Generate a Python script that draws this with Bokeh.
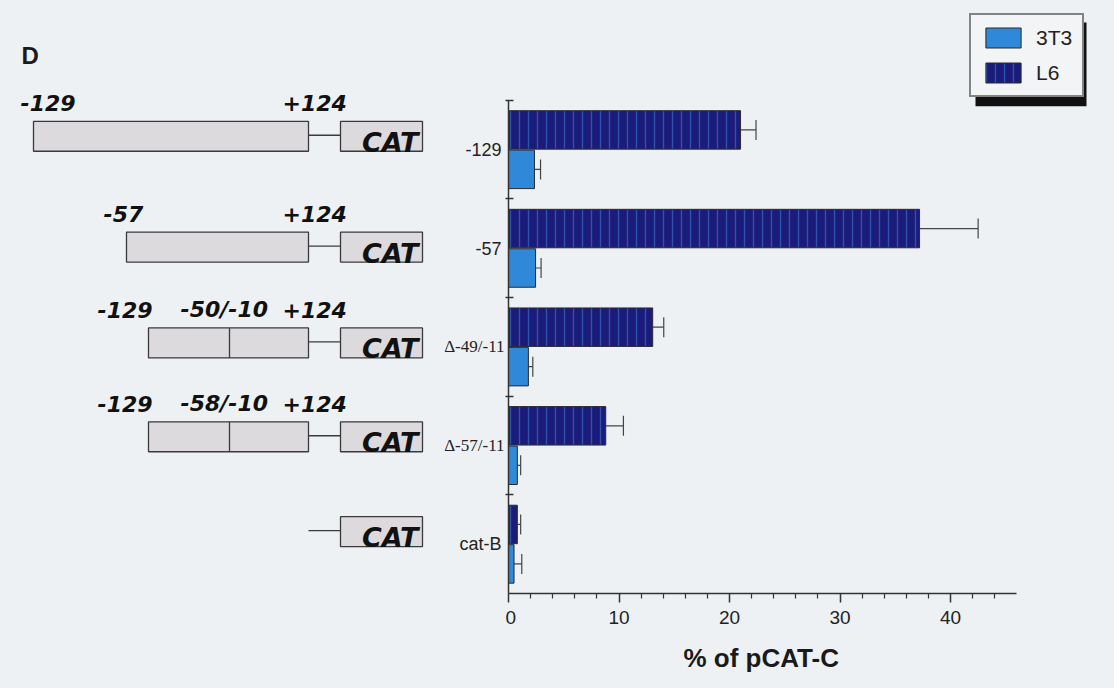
from bokeh.plotting import figure
from bokeh.layouts import row
from bokeh.models import (Range1d, LinearAxis, FixedTicker, Whisker, TeeHead,
                          ColumnDataSource, Legend, LegendItem, Title)
from bokeh.core.properties import value
from bokeh.embed import file_html
from bokeh.resources import INLINE

# ---- data -------------------------------------------------------------
constructs = ["-129", "-57", "Δ-49/-11", "Δ-57/-11", "cat-B"]
l6_vals = [21.0, 37.2, 13.05, 8.8, 0.8]
l6_err = [1.4, 5.3, 1.0, 1.6, 0.3]
t3_vals = [2.35, 2.45, 1.8, 0.8, 0.5]
t3_err = [0.55, 0.5, 0.4, 0.3, 0.7]
series = ["3T3", "L6"]
x_ticks = [0, 10, 20, 30, 40]
x_minor = [2, 4, 6, 8, 12, 14, 16, 18, 22, 24, 26, 28, 32, 34, 36, 38, 42, 44]
x_max = 46
x_title = "% of pCAT-C"
panel_letter = "D"

# construct maps: start label, internal deletion label, end label
map_start = ["-129", "-57", "-129", "-129", None]
map_deletion = [None, None, "-50/-10", "-58/-10", None]
map_end = ["+124", "+124", "+124", "+124", None]

# ---- styling / layout -------------------------------------------------
BG = "#eef1f4"
NAVY = "#1b1c7a"
STREAK = "#3d7fd8"
SKY = "#2f88d8"
EDGE = "#2a2a2a"
W, H = 1114, 688
LEFT_W = 505            # width of the construct-map panel
AX_LEFT = 508           # page x of the value axis origin
AX_BOTTOM = 594         # page y of the category axis bottom
PX_PER_UNIT = 11.05
BAND = 98.8             # pixel height of one construct band

n = len(constructs)
centers = [n - 0.5 - i for i in range(n)]

src = ColumnDataSource(dict(
    y_l6=[c + 0.2 for c in centers],
    y_t3=[c - 0.2 for c in centers],
    l6=l6_vals,
    t3=t3_vals,
    l6_hi=[v + e for v, e in zip(l6_vals, l6_err)],
    t3_hi=[v + e for v, e in zip(t3_vals, t3_err)],
))

# ---- bar panel ----------------------------------------------------------
p = figure(width=W - LEFT_W, height=H,
           x_range=Range1d(0, (W - AX_LEFT) / PX_PER_UNIT),
           y_range=Range1d(0, AX_BOTTOM / BAND),
           output_backend="svg", toolbar_location=None,
           x_axis_location=None, y_axis_location=None,
           min_border_left=AX_LEFT - LEFT_W, min_border_right=0,
           min_border_top=0, min_border_bottom=H - AX_BOTTOM)
p.background_fill_alpha = 0
p.border_fill_alpha = 0
p.outline_line_color = None
p.xgrid.grid_line_color = None
p.ygrid.grid_line_color = None

# legend drop shadow, in page-pixel coordinates
p.extra_x_ranges = {"px": Range1d(AX_LEFT, W)}
p.extra_y_ranges = {"px": Range1d(AX_BOTTOM, 0)}
p.quad(left=[975], right=[1086], top=[22], bottom=[106],
       x_range_name="px", y_range_name="px",
       fill_color="#111111", line_color=None)

r_l6 = p.hbar(y="y_l6", left=0, right="l6", height=0.39, source=src,
              fill_color=NAVY, line_color=EDGE, line_width=1,
              hatch_pattern="vertical_line", hatch_color=STREAK,
              hatch_alpha=0.55, hatch_scale=9, hatch_weight=1.3)
r_t3 = p.hbar(y="y_t3", left=0, right="t3", height=0.39, source=src,
              fill_color=SKY, line_color=EDGE, line_width=1)

for base, lo, hi in (("y_l6", "l6", "l6_hi"), ("y_t3", "t3", "t3_hi")):
    p.add_layout(Whisker(source=src, base=base, lower=lo, upper=hi,
                         dimension="width", lower_head=None,
                         upper_head=TeeHead(size=20, line_color="#444444", line_width=1.2),
                         line_color="#444444", line_width=1.2))

xaxis = LinearAxis(bounds=(0, x_max),
                   ticker=FixedTicker(ticks=x_ticks, minor_ticks=x_minor),
                   axis_line_color="#333333", axis_line_width=1.5,
                   major_tick_line_color="#333333", major_tick_line_width=1.5,
                   major_tick_in=0, major_tick_out=9,
                   minor_tick_line_color="#333333", minor_tick_line_width=1.2,
                   minor_tick_in=0, minor_tick_out=5,
                   major_label_standoff=8,
                   major_label_text_font="Liberation Sans",
                   major_label_text_font_size="19px",
                   major_label_text_color="#222222")
p.add_layout(xaxis, "below")
p.add_layout(Title(text=x_title, align="left", offset=175, vertical_align="middle",
                   standoff=30, text_font="Liberation Sans", text_font_style="bold",
                   text_font_size="26px", text_color="#1a1a1a"), "below")

# category axis: tick marks between construct bands, names drawn beside it
band_edges = list(range(1, n + 1))
yaxis = LinearAxis(bounds=(0, n),
                   ticker=FixedTicker(ticks=band_edges, minor_ticks=[]),
                   axis_line_color="#333333", axis_line_width=1.5,
                   major_tick_line_color="#333333", major_tick_line_width=1.5,
                   major_tick_in=5, major_tick_out=3,
                   minor_tick_line_color=None,
                   major_label_standoff=0,
                   major_label_overrides={e: "" for e in band_edges})
p.add_layout(yaxis, "left")

legend = Legend(items=[LegendItem(label=series[0], renderers=[r_t3]),
                       LegendItem(label=series[1], renderers=[r_l6])],
                location=(969 - AX_LEFT, AX_BOTTOM - 98),
                glyph_width=44, glyph_height=25, label_height=25,
                padding=10, spacing=10, label_standoff=11, margin=0,
                border_line_color="#111111", border_line_width=2,
                background_fill_color="#f3f4f6", background_fill_alpha=1,
                label_text_font="Liberation Sans",
                label_text_font_size="21px", label_text_color="#222222")
p.add_layout(legend)

# ---- construct-map panel (schematic, page-pixel coordinates) ----------
q = figure(width=LEFT_W, height=H, x_range=Range1d(0, LEFT_W),
           y_range=Range1d(AX_BOTTOM, 0),
           output_backend="svg", toolbar_location=None,
           x_axis_location=None, y_axis_location=None,
           min_border_left=0, min_border_right=0, min_border_top=0,
           min_border_bottom=H - AX_BOTTOM)
q.background_fill_alpha = 0
q.border_fill_alpha = 0
q.outline_line_color = None
q.xgrid.grid_line_color = None
q.ygrid.grid_line_color = None

row_top = [121, 232, 328, 422, 517]
box_h = 30
prom_left = [33, 126, 148, 148, None]
prom_right = 308
div_x = 229
cat_left, cat_right = 340, 422
start_x = [20, 103, 97, 97, None]
del_x = 180
end_x = 282

has_prom = [i for i in range(n) if prom_left[i] is not None]
q.quad(left=[prom_left[i] for i in has_prom], right=prom_right,
       top=[row_top[i] for i in has_prom],
       bottom=[row_top[i] + box_h for i in has_prom],
       fill_color="#dcdadd", line_color="#3a3a3a", line_width=1.3)
has_del = [i for i in range(n) if map_deletion[i] is not None]
q.segment(x0=div_x, x1=div_x, y0=[row_top[i] for i in has_del],
          y1=[row_top[i] + box_h for i in has_del], line_color="#3a3a3a", line_width=1.3)
q.segment(x0=prom_right, x1=cat_left, y0=[t + box_h / 2 - 1 for t in row_top],
          y1=[t + box_h / 2 - 1 for t in row_top], line_color="#3a3a3a", line_width=1.3)
q.quad(left=cat_left, right=cat_right, top=row_top, bottom=[t + box_h for t in row_top],
       fill_color="#dcdadd", line_color="#3a3a3a", line_width=1.3)
q.text(x=cat_right - 4, y=[t + box_h - 9 for t in row_top], text=["CAT"] * n,
       text_align="right", text_baseline="middle",
       text_font=value("DejaVu Sans"), text_font_style="bold italic",
       text_font_size="27px", text_color="#111111")

lab_txt, lab_x, lab_y = [], [], []
for i in range(n):
    for txt, x in ((map_start[i], start_x[i]), (map_deletion[i], del_x), (map_end[i], end_x)):
        if txt is not None:
            lab_txt.append(txt)
            lab_x.append(x)
            lab_y.append(row_top[i] - 18)
q.text(x=lab_x, y=lab_y, text=lab_txt, text_align="left", text_baseline="middle",
       text_font=value("DejaVu Sans"), text_font_style="bold italic",
       text_font_size="22px", text_color="#111111")

q.text(x=[21], y=[55], text=[panel_letter], text_align="left", text_baseline="middle",
       text_font=value("Liberation Sans"), text_font_style="bold",
       text_font_size="24px", text_color="#1a1a1a")

# construct names beside the category axis, centred on each band
names_y = [AX_BOTTOM - c * BAND for c in centers]
sans = [i for i in range(n) if not constructs[i].startswith("Δ")]
serif = [i for i in range(n) if constructs[i].startswith("Δ")]
q.text(x=AX_LEFT - 7, y=[names_y[i] for i in sans], text=[constructs[i] for i in sans],
       text_align="right", text_baseline="middle",
       text_font=value("Liberation Sans"), text_font_size="18px", text_color="#222222")
q.text(x=AX_LEFT - 4, y=[names_y[i] for i in serif], text=[constructs[i] for i in serif],
       text_align="right", text_baseline="middle",
       text_font=value("Liberation Serif"), text_font_size="17px", text_color="#222222")

layout = row(q, p, styles={"background-color": BG})
open("out.html", "w").write(file_html(layout, INLINE))
